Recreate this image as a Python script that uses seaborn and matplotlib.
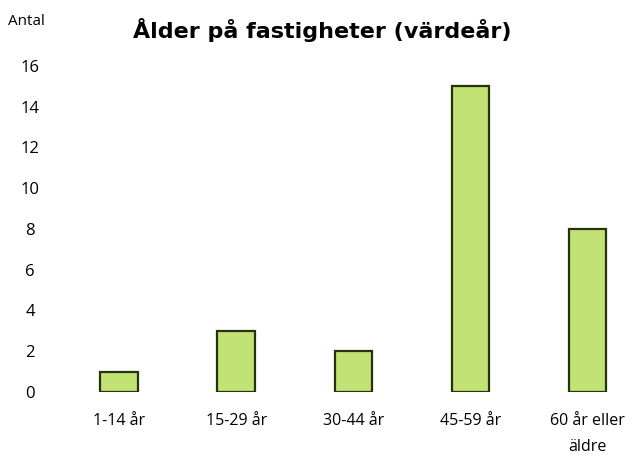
import matplotlib
matplotlib.use("Agg")
import matplotlib.pyplot as plt
import seaborn as sns
import pandas as pd

# data
categories = ["1-14 år", "15-29 år", "30-44 år", "45-59 år", "60 år eller\näldre"]
counts = [1, 3, 2, 15, 8]
y_ticks = [0, 2, 4, 6, 8, 10, 12, 14, 16]

title = "Ålder på fastigheter (värdeår)"
y_label = "Antal"

sns.set_style("white")
plt.rcParams['font.family'] = ['Open Sans', 'DejaVu Sans']
plt.rcParams['text.color'] = 'black'
plt.rcParams['xtick.color'] = 'black'
plt.rcParams['ytick.color'] = 'black'

df = pd.DataFrame({'kategori': categories, 'antal': counts})

fig = plt.figure(figsize=(6.39, 4.55), dpi=100)
ax = fig.add_axes([0.086, 0.1385, 0.914, 0.7165])

sns.barplot(data=df, x='kategori', y='antal', ax=ax, color='#c2e275',
            saturation=1, width=0.32, edgecolor='#26330f', linewidth=1.6)

ax.set_ylim(0, 16)
ax.set_xlim(-0.547, 4.44)
ax.set_yticks(y_ticks)
ax.set_yticklabels([str(t) for t in y_ticks], fontsize=12)
ax.tick_params(axis='y', length=0, pad=18)
ax.tick_params(axis='x', length=0, pad=15, labelsize=11.5)
for lbl in ax.get_yticklabels():
    lbl.set_horizontalalignment('center')
# second line of the last label sits low, as in the original
for lbl in ax.get_xticklabels():
    lbl.set_linespacing(1.85)
ax.set_xlabel("")
ax.set_ylabel("")
sns.despine(ax=ax, left=True, bottom=True)

fig.text(0.013, 0.952, y_label, fontsize=11, va='center', ha='left')
fig.text(0.505, 0.935, title, fontsize=16, fontweight='bold', va='center', ha='center',
         family=['DejaVu Sans'])

fig.savefig("out.png", dpi=100)
